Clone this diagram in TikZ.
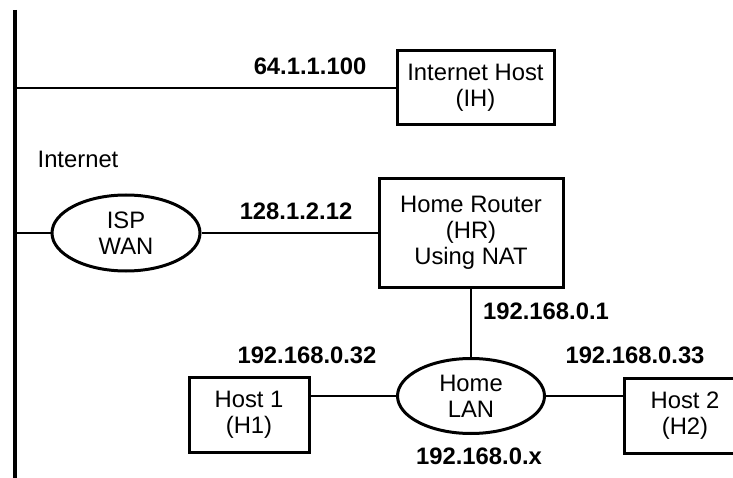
\documentclass[tikz,border=0pt]{standalone}
\usepackage{fontspec}
\setmainfont{Liberation Sans}
\usetikzlibrary{shapes.geometric}

\newcommand{\netbox}[6]{
	\node[draw, line width=3pt, inner sep=0pt, align=center,
		minimum width=#4, minimum height=#5] (#1) at (#2, #3) {#6};
}

\begin{document}
\begin{tikzpicture}[x=1pt, y=-1pt,
	link/.style={line width=1.2pt},
	cloud/.style={ellipse, draw, line width=3pt, inner sep=0pt, align=center},
	addr/.style={font=\bfseries}]
\useasboundingbox (0,0) rectangle (733,478);
\fontsize{23.8}{26}\selectfont

\pgfmathsetmacro{\busX}{14.5}
\pgfmathsetmacro{\ihY}{88}
\pgfmathsetmacro{\ispY}{233}
\pgfmathsetmacro{\lanY}{396}

\coordinate (bustop) at (\busX, 10);
\coordinate (busbot) at (\busX, 478);
\coordinate (ihtap) at (\busX, \ihY);
\coordinate (isptap) at (\busX, \ispY);
\draw[line width=4pt] (bustop) -- (busbot);

\netbox{ih}{475.5}{\ihY}{157pt}{74pt}{Internet Host\\(IH)}
\netbox{hr}{471}{\ispY}{184pt}{109pt}{Home Router\\(HR)\\Using NAT}
\netbox{hone}{249}{414.5}{120pt}{75pt}{Host 1\\(H1)}
\netbox{htwo}{685}{415.5}{122pt}{75pt}{Host 2\\(H2)}

\node[cloud, minimum width=148pt, minimum height=76pt] (isp) at (126, \ispY) {ISP\\WAN};
\node[cloud, minimum width=147pt, minimum height=75pt] (lan) at (471, \lanY) {Home\\LAN};

\node (inet) at (78, 159) {Internet};
\node[addr] (ihaddr) at (310, 66) {64.1.1.100};
\node[addr] (ispaddr) at (296, 211) {128.1.2.12};
\node[addr] (hraddr) at (546, 311) {192.168.0.1};
\node[addr] (honeaddr) at (307, 355) {192.168.0.32};
\node[addr] (htwoaddr) at (635, 355) {192.168.0.33};
\node[addr] (lanaddr) at (479, 456) {192.168.0.x};

\draw[link] (ihtap) -- (ih.west);
\draw[link] (isptap) -- (isp);
\draw[link] (isp) -- (hr);
\draw[link] (hr) -- (lan);
\draw[link] (lan) -- (lan -| hone.east);
\draw[link] (lan) -- (lan -| htwo.west);
\end{tikzpicture}
\end{document}
